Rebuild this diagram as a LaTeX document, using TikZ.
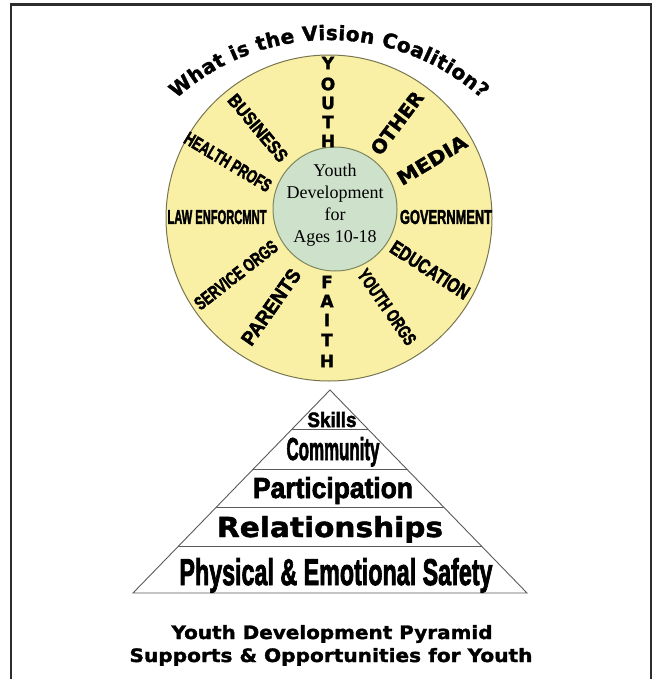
\documentclass[tikz,border=0pt]{standalone}
\usepackage{fontspec}
\setmainfont{Liberation Serif}
\newfontfamily\heavyfam{DejaVu Sans}[BoldFeatures={FakeBold=1.6}]
\newfontfamily\condfam{Liberation Sans}[BoldFeatures={FakeBold=2.6}]
\usetikzlibrary{decorations.text,calc}
\newcommand\heavytxt[3]{\resizebox{#1pt}{#2pt}{\heavyfam\bfseries #3}}
\newcommand\condtxt[3]{\resizebox{#1pt}{#2pt}{\condfam\bfseries #3}}
\newcommand\titlefont{\heavyfam\bfseries\fontsize{20}{22}\selectfont}
\definecolor{wheelfill}{RGB}{249,240,166}
\definecolor{wheelline}{RGB}{120,118,80}
\definecolor{hubfill}{RGB}{206,226,203}
\definecolor{hubline}{RGB}{125,135,90}
\definecolor{framecol}{RGB}{45,45,45}
\definecolor{pyrline}{RGB}{90,90,90}
\begin{document}
\begin{tikzpicture}[x=1pt,y=1pt,
  lbl/.style={inner sep=0pt},
  vlet/.style={inner sep=0pt, font=\heavyfam\bfseries\fontsize{17}{17}\selectfont},
  pyr/.style={draw=pyrline, line width=0.9pt}]
\useasboundingbox (0,0) rectangle (652,-679);
% frame
\draw[line width=2.4pt, draw=framecol] (11,-690) -- (11,-4.5) -- (651,-4.5) -- (651,-690);
% wheel
\node[circle, draw=wheelline, fill=wheelfill, line width=1pt, minimum size=326pt, inner sep=0pt] (wheel) at (329,-218) {};
\node[circle, draw=hubline, fill=hubfill, line width=1pt, minimum size=124pt, inner sep=0pt] (hub) at (335,-209) {};
\node[align=center, font=\fontsize{18}{22}\selectfont, inner sep=0pt] (hubtext) at (335,-205) {Youth\\Development\\for\\Ages 10-18};
% title along arc
\path[decorate, decoration={text along path, text={|\titlefont|What is the Vision Coalition?}, text align={fit to path}}]
  (329,-268) ++(132:228) arc[start angle=132, end angle=48, radius=228];
% vertical words
\foreach \ch/\yy [count=\i] in {Y/63,O/84,U/103,T/122,H/141}
  \node[vlet] (youth\i) at (328,-\yy) {\ch};
\foreach \ch/\yy [count=\i] in {F/282,A/301,I/320,T/340,H/361}
  \node[vlet] (faith\i) at (327,-\yy) {\ch};
% radial labels
\node[lbl, rotate=-50] (business) at (258,-128) {\condtxt{82}{13}{BUSINESS}};
\node[lbl, rotate=-31] (health) at (228,-162) {\condtxt{98}{13}{HEALTH PROFS}};
\node[lbl] (law) at (217,-217) {\condtxt{99}{14}{LAW ENFORCMNT}};
\node[lbl, rotate=38] (service) at (236,-275) {\condtxt{100}{13}{SERVICE ORGS}};
\node[lbl, rotate=55] (parents) at (271,-307) {\condtxt{88}{14}{PARENTS}};
\node[lbl, rotate=53] (other) at (397,-123) {\heavytxt{74}{14}{OTHER}};
\node[lbl, rotate=31] (media) at (432,-160) {\heavytxt{78}{14}{MEDIA}};
\node[lbl] (gov) at (446,-217) {\condtxt{92}{14}{GOVERNMENT}};
\node[lbl, rotate=-33] (edu) at (430,-270) {\condtxt{90}{14}{EDUCATION}};
\node[lbl, rotate=-55] (yorgs) at (387,-307) {\condtxt{88}{13}{YOUTH ORGS}};
% pyramid
\coordinate (apex) at (330,-390);
\coordinate (bl) at (133,-593);
\coordinate (br) at (527,-593);
\draw[pyr] (bl) -- (apex) -- (br) -- cycle;
\foreach \t in {0.192,0.389,0.581,0.773}
  \draw[pyr] ($(apex)!\t!(bl)$) -- ($(apex)!\t!(br)$);
\node[lbl, anchor=base] (skills) at (332,-427) {\condtxt{49}{15}{Skills}};
\node[lbl, anchor=base] (community) at (333,-460) {\condtxt{93}{23}{Community}};
\node[lbl, anchor=base] (particip) at (333,-498) {\condtxt{160}{21}{Participation}};
\node[lbl, anchor=base] (relat) at (330,-537) {\heavytxt{226}{21}{Relationships}};
\node[lbl, anchor=base] (safety) at (336,-585) {\condtxt{313}{27}{Physical \& Emotional Safety}};
% caption
\node[lbl, anchor=base] (cap1) at (332,-639) {\heavytxt{321}{14}{Youth Development Pyramid}};
\node[lbl, anchor=base] (cap2) at (331,-662) {\heavytxt{403}{14}{Supports \& Opportunities for Youth}};
\end{tikzpicture}
\end{document}
